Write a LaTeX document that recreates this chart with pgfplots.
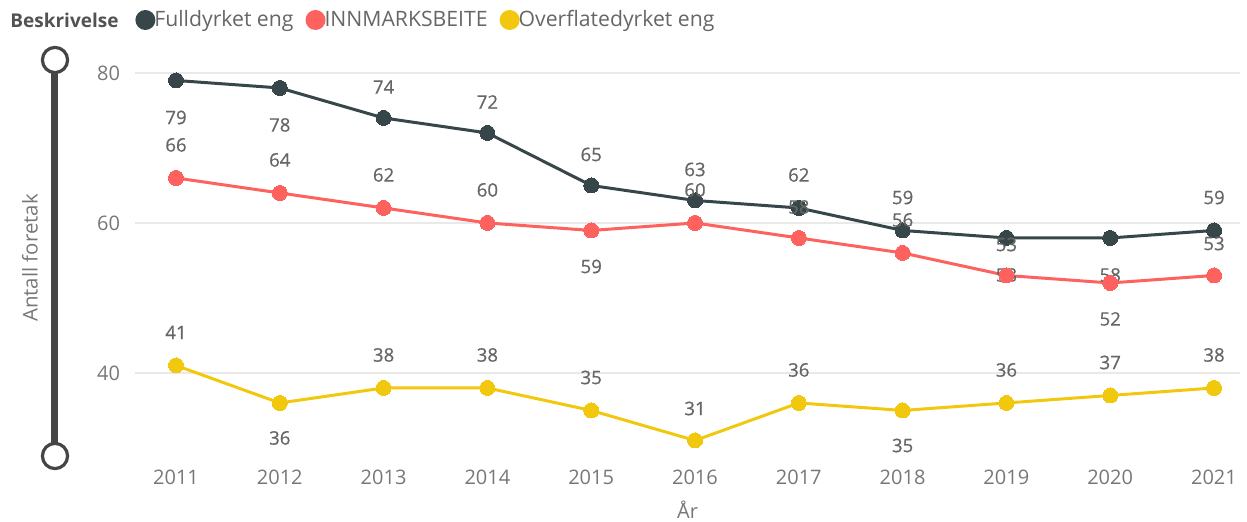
\documentclass[border=0pt]{standalone}
\usepackage{fontspec}
\setmainfont{Open Sans}
\newfontfamily\labfont[FakeBold=0.6]{Open Sans}
\usepackage{pgfplots}
\usepackage{pgfplotstable}
\pgfplotsset{compat=1.18}

\definecolor{cDark}{HTML}{374649}
\definecolor{cRed}{HTML}{FD625E}
\definecolor{cYel}{HTML}{F2C80F}
\definecolor{cTick}{HTML}{777777}
\definecolor{cLab}{HTML}{666666}
\definecolor{cLeg}{HTML}{666666}
\definecolor{cGrid}{HTML}{E9E9E9}
\definecolor{cSlider}{HTML}{454545}

\pgfplotsset{
  lab/.style={
    nodes near coords={\pgfmathprintnumber[fixed,precision=0]{\pgfplotspointmeta}},
    visualization depends on={\thisrow{d} \as \dy},
    every node near coord/.append style={anchor=center, yshift=\dy pt,
      font=\labfont\fontsize{9.3}{10}\selectfont, text=cLab},
  },
  ser/.style={#1, line width=1.5pt, mark=*, mark size=3.75pt,
    mark options={draw=#1, fill=#1, line width=0pt}, forget plot, lab},
}

% x = year, y = value, d = label offset in pt (positive above, negative below)
\pgfplotstableread{
x y d
2011 79 -18.5
2012 78 -18.5
2013 74 15.5
2014 72 15.5
2015 65 15.5
2016 63 15.5
2017 62 16.5
2018 59 16.5
2019 58 -18.5
2020 58 -18.5
2021 59 16.5
}\full
\pgfplotstableread{
x y d
2011 66 16.5
2012 64 16.5
2013 62 16.5
2014 60 16.5
2015 59 -18
2016 60 16.5
2017 58 15.5
2018 56 16.5
2019 53 15.5
2020 52 -18
2021 53 16
}\innmark
\pgfplotstableread{
x y d
2011 41 16.5
2012 36 -17.5
2013 38 16.5
2014 38 16.5
2015 35 16.5
2016 31 16
2017 36 16.5
2018 35 -17.5
2019 36 16.5
2020 37 16.5
2021 38 16.5
}\overfl

\begin{document}
\begin{tikzpicture}
\useasboundingbox (-67.5pt,-33pt) rectangle (556pt,228pt);
\begin{axis}[
  at={(0pt,0pt)}, anchor=south west,
  scale only axis, width=552.5pt, height=198pt,
  xmin=2010.605, xmax=2021.25, ymin=28.93, ymax=81.73,
  xtick={2011,...,2021}, ytick={40,60,80},
  ymajorgrids, grid style={cGrid, line width=0.8pt},
  axis line style={draw=none}, tick style={draw=none},
  /pgf/number format/1000 sep={},
  /pgf/number format/assume math mode=true,
  tick label style={font=\fontsize{10}{11}\selectfont, text=cTick},
  yticklabel style={xshift=-4pt},
  xticklabel style={yshift=-3.5pt},
  xlabel={År}, ylabel={Antall foretak},
  every axis x label/.style={at={(axis description cs:0.5,-0.136)}, anchor=center,
    font=\fontsize{10}{11}\selectfont, text=cTick},
  every axis y label/.style={at={(axis description cs:-0.095,0.5)}, anchor=center, rotate=90,
    font=\fontsize{10.2}{11}\selectfont, text=cTick},
  legend columns=-1,
  legend style={at={(axis description cs:0.0,1.101)}, anchor=west, draw=none, fill=none,
    inner xsep=0pt, font=\fontsize{10.6}{12}\selectfont, text=cLeg,
    /tikz/every odd column/.append style={column sep=-2.5pt},
    /tikz/every even column/.append style={column sep=4pt}},
  legend image code/.code={\fill[draw=none,#1] (5pt,0pt) circle (5pt);},
]
\addplot[ser=cDark] table[x=x,y=y] {\full};
\addplot[ser=cRed] table[x=x,y=y] {\innmark};
\addplot[ser=cYel] table[x=x,y=y] {\overfl};
\addlegendimage{fill=cDark}
\addlegendentry{Fulldyrket eng}
\addlegendimage{fill=cRed}
\addlegendentry{INNMARKSBEITE}
\addlegendimage{fill=cYel}
\addlegendentry{Overflatedyrket eng}
\end{axis}
\node[anchor=west, inner sep=0pt, font=\bfseries\fontsize{9.5}{11}\selectfont, text=cLeg!80!black] at (-62.5pt,218pt) {Beskrivelse};
% range slider on the left
\draw[cSlider, line width=3.5pt] (-40pt,6pt) -- (-40pt,192pt);
\draw[cSlider, line width=1.6pt, fill=white] (-40pt,198pt) circle (6.3pt);
\draw[cSlider, line width=1.6pt, fill=white] (-40pt,0pt) circle (6.3pt);
\end{tikzpicture}
\end{document}
